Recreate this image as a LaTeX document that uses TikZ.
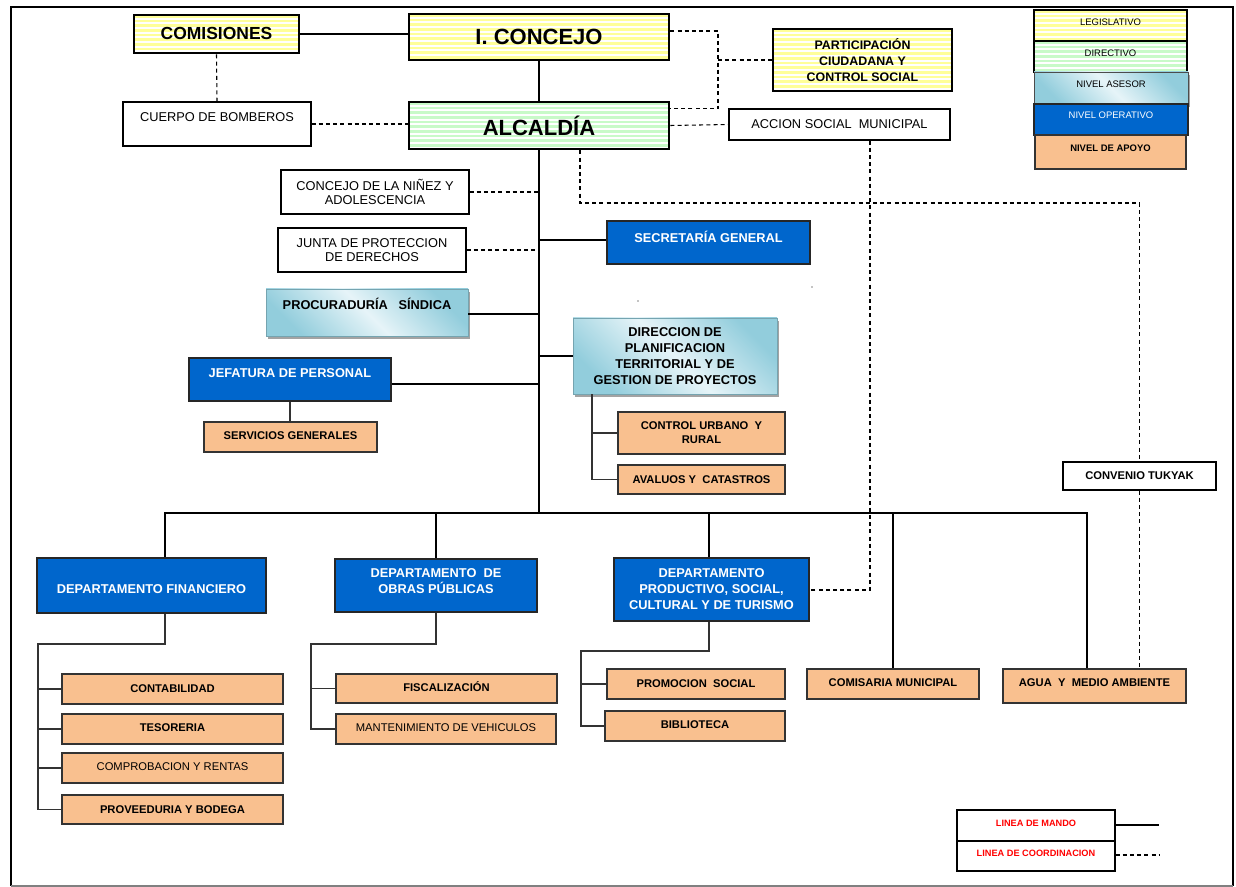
\documentclass[tikz,border=0pt]{standalone}
\usepackage{fontspec}
\setmainfont{Liberation Sans}
\usetikzlibrary{shadows,calc}
\definecolor{ylw}{HTML}{FFFF99}
\definecolor{grn}{HTML}{C8FAC8}
\definecolor{opblue}{HTML}{0066CC}
\definecolor{apoyo}{HTML}{F9C08F}
\definecolor{asB}{HTML}{92CDDC}
\definecolor{asW}{HTML}{E6F4F8}
\pgfdeclarehorizontalshading{asesorsh}{100bp}{color(0bp)=(asB); color(25bp)=(asB); color(50bp)=(asW); color(75bp)=(asB); color(100bp)=(asB)}
\newcommand\stripes{\foreach \k in {0,...,24}{\fill[white] ([yshift={-\k*3.5pt-2pt}]path picture bounding box.north west) rectangle ++(400pt,-1.6pt);}}
\newcommand\bx[9]{\node[#2, minimum width={(#6-#4)*0.75pt}, minimum height={(#7-#5)*0.75pt}, inner sep=0pt, label={[#3, yshift={(#8)*0.75pt}]center:{#9}}] (#1) at ({(#4+#6)/2},{(#5+#7)/2}) {};}
\tikzset{
 ybox/.style={draw, line width=2pt, fill=ylw, path picture={\stripes}},
 gbox/.style={draw, line width=2pt, fill=grn, path picture={\stripes}},
 wbox/.style={draw, line width=0.8pt, fill=white},
 bbox/.style={draw=black!85, line width=1.2pt, fill=opblue},
 obox/.style={draw=black!80, line width=1pt, fill=apoyo},
 abox/.style={draw=asB!80!black, line width=0.6pt, shading=asesorsh, shading angle=45, drop shadow={shadow xshift=1.2pt, shadow yshift=-2pt, fill=black!45, opacity=0.8}},
 thinb/.style={line width=0.8pt},
 big/.style={font=\fontsize{16.5}{20}\selectfont\bfseries},
 tbig/.style={font=\fontsize{13.1}{16}\selectfont\bfseries},
 tb/.style={font=\fontsize{9.6}{12}\selectfont\bfseries, align=center},
 tbp/.style={font=\fontsize{9.3}{11.8}\selectfont\bfseries, align=center},
 tbw/.style={tb, text=white},
 tr/.style={font=\fontsize{9.6}{10.75}\selectfont, align=center},
 ts/.style={font=\fontsize{8.4}{10.5}\selectfont\bfseries, align=center},
 tsr/.style={font=\fontsize{8.4}{10.5}\selectfont, align=center},
 tl/.style={font=\fontsize{7.1}{8.5}\selectfont},
 tlb/.style={font=\fontsize{7.1}{8.5}\selectfont\bfseries},
 tred/.style={font=\fontsize{6.9}{8.5}\selectfont\bfseries, text=red},
 mando/.style={line width=1.6pt},
 sub/.style={line width=0.8pt, draw=black!80},
 coordl/.style={line width=0.8pt, dash pattern=on 3pt off 2.4pt},
}
\begin{document}
\begin{tikzpicture}[x=0.75pt,y=-0.75pt]
\useasboundingbox (0,0) rectangle (1236,887);
% frame
\draw[line width=2.2pt] (11,886) -- (11,7) -- (1233,7) -- (1233,886);
\draw[gray, line width=0.8pt] (11,886) -- (1233,886);
% top level
\bx{comisiones}{ybox}{tbig}{134}{15}{299}{53}{1}{COMISIONES}
\bx{concejo}{ybox}{big}{409}{14}{669}{60}{0}{I. CONCEJO}
\bx{part}{ybox}{tbp}{773}{29}{952}{91}{0}{PARTICIPACIÓN\\CIUDADANA Y\\CONTROL SOCIAL}
\bx{bomberos}{wbox}{tr}{123}{102}{311}{146}{7}{CUERPO DE BOMBEROS}
\bx{alcaldia}{gbox}{big}{409}{102}{669}{149}{0}{ALCALDÍA}
\bx{accion}{wbox}{tr}{729}{109}{950}{140}{0}{ACCION SOCIAL\ \ MUNICIPAL}
% middle
\bx{ninez}{wbox}{tr}{281}{170}{469}{214}{0}{CONCEJO DE LA NIÑEZ Y\\ADOLESCENCIA}
\bx{junta}{wbox}{tr}{278}{228}{466}{272}{0}{JUNTA DE PROTECCION\\DE DERECHOS}
\bx{secretaria}{bbox}{tbw}{607}{221}{810}{264}{6}{SECRETARÍA GENERAL}
\bx{procu}{abox}{tb}{266}{289}{468}{336}{8.5}{PROCURADURÍA\ \ \ SÍNDICA}
\bx{direccion}{abox}{tb}{573}{318}{777}{394}{0}{DIRECCION DE\\PLANIFICACION\\TERRITORIAL Y DE\\GESTION DE PROYECTOS}
\bx{jefatura}{bbox}{tbw}{189}{358}{391}{401}{6.5}{JEFATURA DE PERSONAL}
\bx{servicios}{obox}{ts}{204}{422}{377}{452}{1}{SERVICIOS GENERALES}
\bx{control}{obox}{ts}{618}{412}{785}{454}{0}{CONTROL URBANO\ \ Y\\RURAL}
\bx{avaluos}{obox}{ts}{618}{465}{785}{494}{0}{AVALUOS Y\ \ CATASTROS}
\bx{convenio}{wbox}{ts}{1063}{462}{1216}{490}{0}{CONVENIO TUKYAK}
% departments
\bx{fin}{bbox}{tbw}{37}{558}{266}{613}{-3.5}{DEPARTAMENTO FINANCIERO}
\bx{obras}{bbox}{tbw}{335}{559}{537}{612}{4}{DEPARTAMENTO\ \ DE\\OBRAS PÚBLICAS}
\bx{prod}{bbox}{tbw}{614}{558}{809}{621}{0}{DEPARTAMENTO\\PRODUCTIVO, SOCIAL,\\CULTURAL Y DE TURISMO}
\bx{contab}{obox}{ts}{62}{674}{283}{704}{0}{CONTABILIDAD}
\bx{teso}{obox}{ts}{62}{714}{283}{744}{1}{TESORERIA}
\bx{comprob}{obox}{tsr}{62}{753}{283}{783}{1}{COMPROBACION Y RENTAS}
\bx{prov}{obox}{ts}{62}{795}{283}{824}{0}{PROVEEDURIA Y BODEGA}
\bx{fisc}{obox}{ts}{336}{674}{557}{703}{1.5}{FISCALIZACIÓN}
\bx{mant}{obox}{tsr}{336}{714}{556}{744}{1}{MANTENIMIENTO DE VEHICULOS}
\bx{promo}{obox}{ts}{607}{669}{785}{699}{0}{PROMOCION\ \ SOCIAL}
\bx{biblio}{obox}{ts}{605}{711}{785}{741}{1}{BIBLIOTECA}
\bx{comisaria}{obox}{ts}{807}{669}{979}{699}{1}{COMISARIA MUNICIPAL}
\bx{agua}{obox}{ts}{1003}{669}{1186}{703}{3}{AGUA\ \ Y\ \ MEDIO AMBIENTE}
% legend
\bx{lg1}{ybox,thinb}{tl}{1034}{10}{1187}{41}{3}{LEGISLATIVO}
\bx{lg2}{gbox,thinb}{tl}{1034}{41}{1187}{72}{3}{DIRECTIVO}
\bx{lg3}{abox,draw=black!70}{tl}{1034}{72}{1188}{104}{4}{NIVEL ASESOR}
\bx{lg4}{bbox,thinb}{tl,text=white}{1034}{104}{1188}{135}{4}{NIVEL OPERATIVO}
\bx{lg5}{obox,thinb}{tlb}{1035}{135}{1186}{169}{4}{NIVEL DE APOYO}
\bx{lmando}{wbox}{tred}{957}{810}{1115}{841}{2.5}{LINEA DE MANDO}
\bx{lcoord}{wbox}{tred}{957}{841}{1115}{871}{2.5}{LINEA DE COORDINACION}
\coordinate (lm) at (1159,825);
\coordinate (lc) at (1159,855);
\draw[mando] (lm -| lmando.east) -- (lm);
\draw[coordl] (lc -| lcoord.east) -- (lc);
% connectors top
\draw[mando] (comisiones.east) -- (comisiones.east -| concejo.west);
\draw[mando] (concejo.south) -- (alcaldia.north);
\draw[coordl] (comisiones.south) -- (bomberos.north);
\draw[coordl] (bomberos.east) -- (bomberos.east -| alcaldia.west);
\coordinate (pj) at (718,60);
\draw[coordl] ([yshift=4.5pt]concejo.east) -| (pj) |- ([yshift=12.4pt]alcaldia.east);
\draw[coordl] (pj) -- (part.west);
\draw[coordl] (alcaldia.east) -- (accion.west);
% trunk
\coordinate (tb) at (539,513);
\draw[mando] (alcaldia.south) -- (tb);
\draw[coordl] (ninez.east) -- (ninez.east -| tb);
\draw[coordl] (junta.east) -- (junta.east -| tb);
\draw[mando] ([yshift=1.9pt]secretaria.west) -- ([yshift=1.9pt]secretaria.west -| tb);
\draw[mando] ([yshift=-1.1pt]procu.east) -- ([yshift=-1.1pt]procu.east -| tb);
\draw[mando] (direccion.west) -- (direccion.west -| tb);
\draw[mando] ([yshift=-3.4pt]jefatura.east) -- ([yshift=-3.4pt]jefatura.east -| tb);
\draw[sub] (jefatura.south) -- (jefatura.south |- servicios.north);
\coordinate (db) at (592,479.5);
\draw[sub] (direccion.south -| db) -- (db) -- (avaluos.west);
\draw[sub] (control.west -| db) -- (control.west);
% bottom bar
\coordinate (bl) at (165,513);
\coordinate (br) at (1087,513);
\draw[mando] (fin.north -| bl) -- (bl) -- (br) -- (agua.north -| br);
\draw[mando] (obras.north) -- (obras.north |- tb);
\draw[mando] ([xshift=-1.9pt]prod.north) -- ([xshift=-1.9pt]prod.north |- tb);
\draw[mando] (comisaria.north) -- (comisaria.north |- tb);
% sub brackets
\coordinate (fa) at (165,644);
\coordinate (fb) at (38,644);
\draw[sub] (fin.south -| fa) -- (fa) -- (fb) -- (fb |- prov.west) -- (prov.west);
\foreach \n in {contab,teso,comprob} \draw[sub] (\n.west -| fb) -- (\n.west);
\coordinate (oa) at (436,644);
\coordinate (ob) at (311,644);
\draw[sub] (obras.south) -- (oa) -- (ob) -- (ob |- mant.west) -- (mant.west);
\draw[sub] (fisc.west -| ob) -- (fisc.west);
\coordinate (pa) at (709,651);
\coordinate (pb) at (581,651);
\draw[sub] (prod.south -| pa) -- (pa) -- (pb) -- (pb |- biblio.west) -- (biblio.west);
\draw[sub] (promo.west -| pb) -- (promo.west);
% coordination lines
\coordinate (cj) at (1139.5,203);
\draw[coordl] ([xshift=30.75pt]alcaldia.south) |- (cj) -- (convenio.north);
\draw[coordl] (convenio.south) -- (convenio.south |- agua.north);
\coordinate (ap) at (870,590);
\draw[coordl] (accion.south -| ap) -- (ap) -- (ap -| prod.east);
% stray marks
\fill (638,301) circle (0.45pt);
\fill (812,287) circle (0.45pt);
\end{tikzpicture}
\end{document}
